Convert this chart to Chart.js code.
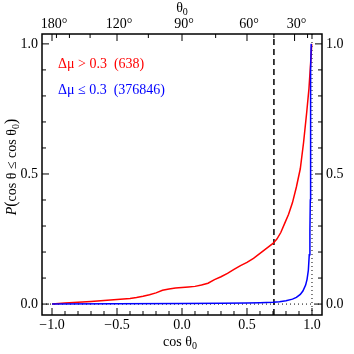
<!DOCTYPE html>
<html>
<head>
<meta charset="utf-8">
<script src="https://cdn.jsdelivr.net/npm/chart.js@4.4.1/dist/chart.umd.min.js"></script>
<style>
  html, body { margin: 0; padding: 0; background: #fff; }
  #wrap { width: 354px; height: 354px; }
</style>
</head>
<body>
<div id="wrap"><canvas id="cdfChart" width="354" height="354"></canvas></div>
<script>
// cumulative distributions
const redCos = [-1.0, -0.95, -0.9, -0.8, -0.7, -0.6, -0.5, -0.4, -0.35, -0.3, -0.25, -0.2, -0.15, -0.1, -0.05,
  0.0, 0.05, 0.1, 0.15, 0.2, 0.25, 0.3, 0.35, 0.4, 0.45, 0.5, 0.55, 0.6, 0.65, 0.7, 0.73, 0.76, 0.79, 0.82,
  0.85, 0.88, 0.91, 0.935, 0.96, 0.977, 0.99, 0.998];
const redP = [0.0, 0.002, 0.004, 0.007, 0.01, 0.014, 0.018, 0.021, 0.025, 0.03, 0.036, 0.043, 0.053, 0.058, 0.062,
  0.064, 0.066, 0.068, 0.073, 0.08, 0.094, 0.105, 0.118, 0.133, 0.148, 0.16, 0.176, 0.195, 0.214, 0.233, 0.25, 0.275, 0.31, 0.345,
  0.39, 0.45, 0.52, 0.62, 0.74, 0.83, 0.93, 1.0];

const blueCos = [-1.0, -0.5, 0.0, 0.3, 0.5, 0.6, 0.7, 0.75, 0.8, 0.85, 0.88, 0.91, 0.93, 0.951, 0.962,
  0.972, 0.979, 0.984, 0.987, 0.988, 0.989, 0.991, 0.994];
const blueP = [0.0, 0.001, 0.002, 0.003, 0.004, 0.005, 0.007, 0.009, 0.013, 0.019, 0.026, 0.037, 0.05, 0.073, 0.095,
  0.13, 0.19, 0.28, 0.4, 0.55, 0.7, 0.9, 1.0];

// reference lines
const dashedCos = 0.7071; // cos 45°
const dottedCos = 1.0;
const dottedP = 0.0;

// axes
const xMin = -1.077, xMax = 1.077;
const yMin = -0.042, yMax = 1.038;
const xTickValues = [-1.0, -0.5, 0.0, 0.5, 1.0];
const xTickLabels = ["\u22121.0", "\u22120.5", "0.0", "0.5", "1.0"];
const yTickValues = [0.0, 0.5, 1.0];
const yTickLabels = ["0.0", "0.5", "1.0"];
const topAngles = [180, 120, 90, 60, 30];
const topLabels = ["180\u00b0", "120\u00b0", "90\u00b0", "60\u00b0", "30\u00b0"];
const topMinorAngles = [165, 150, 135, 105, 75, 45, 15, 0];

const legendLines = [
  { text: "\u0394\u03bc > 0.3  (638)", color: "#ff0000" },
  { text: "\u0394\u03bc \u2264 0.3  (376846)", color: "#0000ff" }
];

const toXY = (xs, ys) => xs.map((x, i) => ({ x: x, y: ys[i] }));
const FONT = "14px 'Liberation Serif', 'DejaVu Serif', serif";
const SMALL = "10px 'Liberation Serif', 'DejaVu Serif', serif";

// draws frame, inward ticks, tick labels, titles and the legend text
const framePlugin = {
  id: "framePlugin",
  afterDraw(chart) {
    const ctx = chart.ctx;
    const a = chart.chartArea;
    const xs = chart.scales.x, ys = chart.scales.y;
    ctx.save();
    ctx.strokeStyle = "#000";
    ctx.fillStyle = "#000";

    // frame
    ctx.lineWidth = 1.5;
    ctx.strokeRect(a.left, a.top, a.right - a.left, a.bottom - a.top);

    ctx.lineWidth = 1;
    const vTick = (px, len) => {
      ctx.beginPath();
      ctx.moveTo(px, a.bottom); ctx.lineTo(px, a.bottom - len);
      ctx.stroke();
    };
    const topTick = (px, len) => {
      ctx.beginPath();
      ctx.moveTo(px, a.top); ctx.lineTo(px, a.top + len);
      ctx.stroke();
    };
    const hTick = (py, len) => {
      ctx.beginPath();
      ctx.moveTo(a.left, py); ctx.lineTo(a.left + len, py);
      ctx.moveTo(a.right, py); ctx.lineTo(a.right - len, py);
      ctx.stroke();
    };

    // bottom ticks, minor every 0.1
    for (let i = -10; i <= 10; i++) {
      const v = i / 10;
      vTick(xs.getPixelForValue(v), i % 5 === 0 ? 7 : 4);
    }
    // left / right ticks
    for (let i = 0; i <= 10; i++) {
      const v = i / 10;
      hTick(ys.getPixelForValue(v), i % 5 === 0 ? 7 : 4);
    }
    // top ticks in degrees
    topAngles.forEach((d) => topTick(xs.getPixelForValue(Math.cos(d * Math.PI / 180)), 7));
    topMinorAngles.forEach((d) => topTick(xs.getPixelForValue(Math.cos(d * Math.PI / 180)), 4));

    ctx.font = FONT;
    // bottom labels
    ctx.textAlign = "center";
    ctx.textBaseline = "alphabetic";
    xTickValues.forEach((v, i) => ctx.fillText(xTickLabels[i], xs.getPixelForValue(v), a.bottom + 14));
    // top labels
    topAngles.forEach((d, i) => ctx.fillText(topLabels[i], xs.getPixelForValue(Math.cos(d * Math.PI / 180)) + 2, a.top - 6));
    // left / right labels
    ctx.textBaseline = "middle";
    yTickValues.forEach((v, i) => {
      const py = ys.getPixelForValue(v);
      ctx.textAlign = "right";
      ctx.fillText(yTickLabels[i], a.left - 4, py);
      ctx.textAlign = "left";
      ctx.fillText(yTickLabels[i], a.right + 4, py);
    });

    // text with subscript 0, centred on cx
    const subText = (parts, cx, cy) => {
      let w = 0;
      parts.forEach((p) => { ctx.font = p.font; w += ctx.measureText(p.t).width; });
      let x = cx - w / 2;
      ctx.textAlign = "left";
      parts.forEach((p) => {
        ctx.font = p.font;
        ctx.fillText(p.t, x, cy + (p.dy || 0));
        x += ctx.measureText(p.t).width;
      });
    };
    ctx.textBaseline = "alphabetic";
    const midX = (a.left + a.right) / 2;
    subText([{ t: "cos \u03b8", font: FONT }, { t: "0", font: SMALL, dy: 3 }], midX - 2, 346);
    subText([{ t: "\u03b8", font: FONT }, { t: "0", font: SMALL, dy: 3 }], midX, 12);

    // y title, rotated
    ctx.save();
    ctx.translate(16, 167);
    ctx.rotate(-Math.PI / 2);
    subText([
      { t: "P", font: "italic " + FONT },
      { t: "(", font: "16px 'Liberation Serif', serif" },
      { t: "cos \u03b8 \u2264 cos \u03b8", font: FONT },
      { t: "0", font: SMALL, dy: 3 },
      { t: ")", font: "16px 'Liberation Serif', serif" }
    ], 0, 0);
    ctx.restore();

    // legend text
    ctx.font = FONT;
    ctx.textAlign = "left";
    ctx.textBaseline = "middle";
    legendLines.forEach((l, i) => {
      ctx.fillStyle = l.color;
      ctx.fillText(l.text, 58, 64 + i * 26);
    });
    ctx.restore();
  }
};

const ctx = document.getElementById("cdfChart").getContext("2d");
new Chart(ctx, {
  type: "line",
  data: {
    datasets: [
      {
        label: "blue",
        data: toXY(blueCos, blueP),
        borderColor: "#0000ff",
        borderWidth: 1.5,
        pointRadius: 0,
        tension: 0,
        order: 1
      },
      {
        label: "red",
        data: toXY(redCos, redP),
        borderColor: "#ff0000",
        borderWidth: 1.5,
        pointRadius: 0,
        tension: 0,
        order: 2
      },
      {
        label: "dashed",
        data: toXY([dashedCos, dashedCos], [yMin, yMax]),
        borderColor: "#000",
        borderWidth: 1.5,
        borderDash: [6, 4],
        pointRadius: 0,
        order: 3
      },
      {
        label: "dottedV",
        data: toXY([dottedCos, dottedCos], [yMin, yMax]),
        borderColor: "#000",
        borderWidth: 1,
        borderDash: [1, 3],
        pointRadius: 0,
        order: 4
      },
      {
        label: "dottedH",
        data: toXY([xMin, xMax], [dottedP, dottedP]),
        borderColor: "#000",
        borderWidth: 1,
        borderDash: [1, 3],
        pointRadius: 0,
        order: 5
      }
    ]
  },
  options: {
    responsive: false,
    animation: false,
    layout: { padding: { left: 42, top: 34, right: 32, bottom: 39 } },
    scales: {
      x: { type: "linear", min: xMin, max: xMax, display: false },
      y: { type: "linear", min: yMin, max: yMax, display: false }
    },
    plugins: {
      legend: { display: false },
      tooltip: { enabled: false }
    }
  },
  plugins: [framePlugin]
});
</script>
</body>
</html>
